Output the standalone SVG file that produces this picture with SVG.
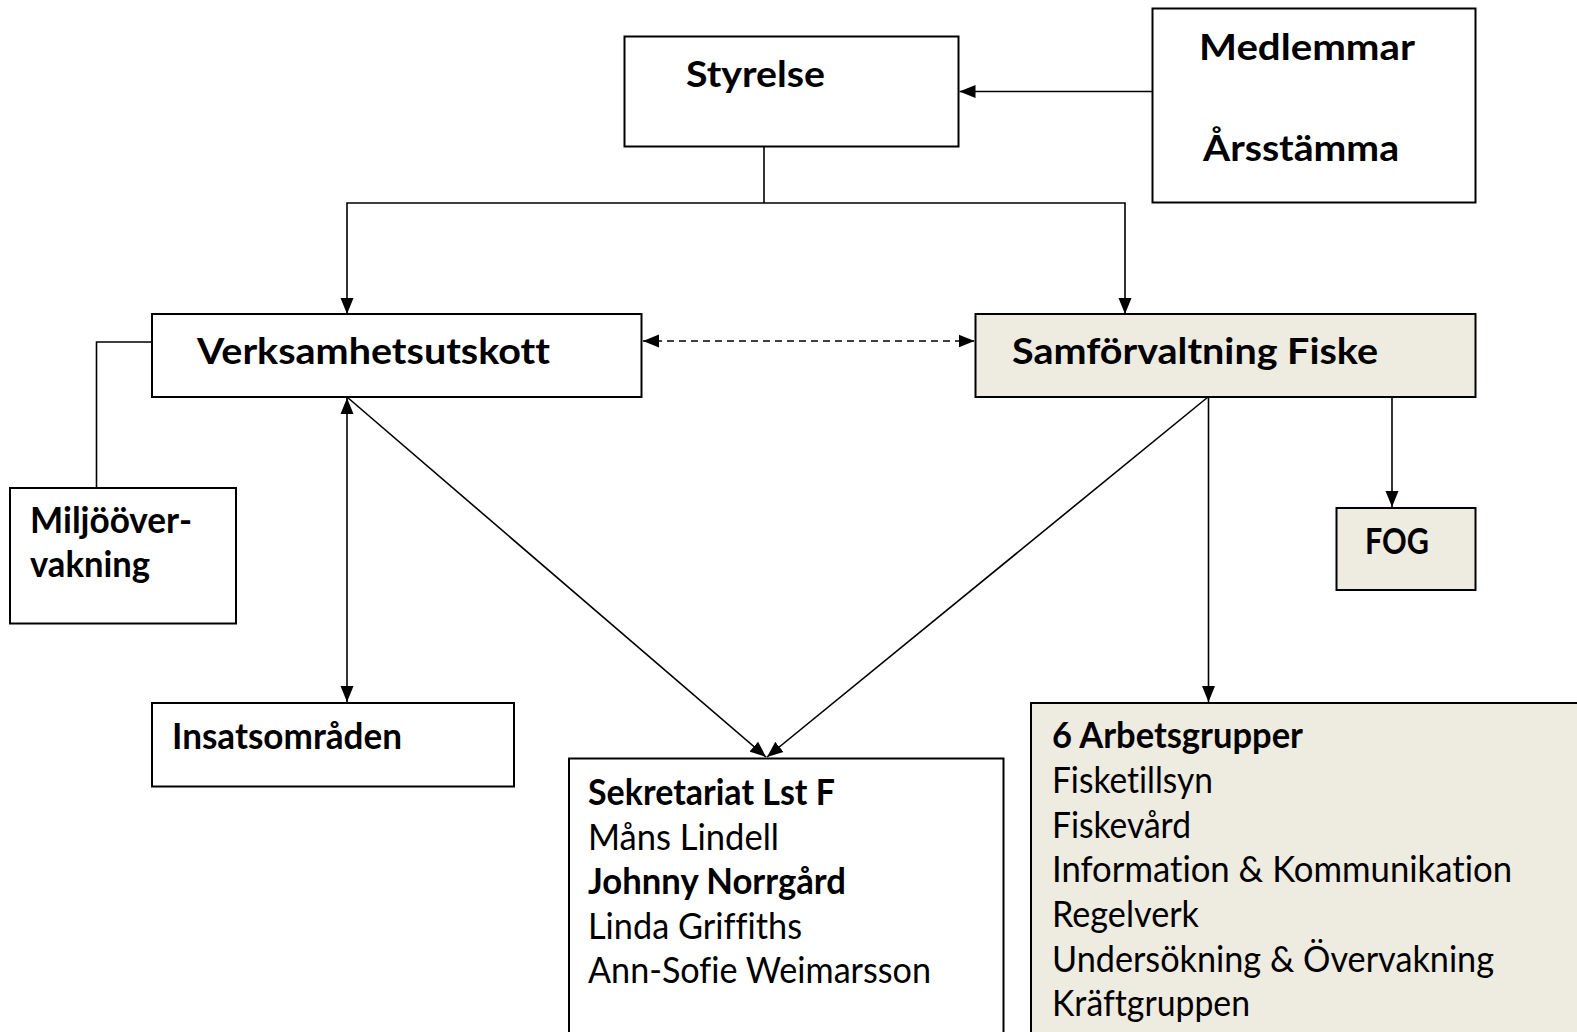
<svg xmlns="http://www.w3.org/2000/svg" width="1577" height="1032" viewBox="0 0 1577 1032">
<style>
.box{fill:#ffffff;stroke:#000;stroke-width:2}
.tan{fill:#EEEBE0;stroke:#000;stroke-width:2}
.t{font-family:Lato,"Liberation Sans",sans-serif;font-size:36px;fill:#000;font-variant-ligatures:none}
.b{font-weight:bold}
.c{fill:none;stroke:#000;stroke-width:1.6}
.d{stroke-dasharray:7 5}
</style>
<defs>
<marker id="ah" viewBox="0 0 16 14" refX="16" refY="7" markerWidth="16" markerHeight="14" markerUnits="userSpaceOnUse" orient="auto-start-reverse">
<path d="M0,0.5 L16,7 L0,13.5 Z" fill="#000"/>
</marker>
</defs>
<rect width="1577" height="1032" fill="#fff"/>
<g id="connectors">
<line class="c" x1="1152.5" y1="91.5" x2="959.5" y2="91.5" marker-end="url(#ah)"/>
<polyline class="c" points="764,147 764,203"/>
<polyline class="c" points="347,314 347,203 1125,203 1125,314" marker-start="url(#ah)" marker-end="url(#ah)"/>
<line class="c d" x1="643" y1="341" x2="974.5" y2="341" marker-start="url(#ah)" marker-end="url(#ah)"/>
<polyline class="c" points="152,342 96.5,342 96.5,488"/>
<line class="c" x1="347" y1="398" x2="347" y2="702" marker-start="url(#ah)" marker-end="url(#ah)"/>
<line class="c" x1="347" y1="397" x2="766" y2="757" marker-end="url(#ah)"/>
<line class="c" x1="1208" y1="397" x2="767" y2="757" marker-end="url(#ah)"/>
<line class="c" x1="1208.5" y1="397" x2="1208.5" y2="702" marker-end="url(#ah)"/>
<line class="c" x1="1392" y1="397" x2="1392" y2="507" marker-end="url(#ah)"/>
</g>
<g id="styrelse">
<rect class="box" x="624.5" y="36.5" width="334" height="110"/>
<text class="t b" x="686" y="87" textLength="139" lengthAdjust="spacingAndGlyphs">Styrelse</text>
</g>
<g id="medlemmar">
<rect class="box" x="1152.5" y="8.5" width="323" height="194"/>
<text class="t b" x="1199" y="60" textLength="216" lengthAdjust="spacingAndGlyphs">Medlemmar</text>
<text class="t b" x="1203" y="161" textLength="196" lengthAdjust="spacingAndGlyphs">Årsstämma</text>
</g>
<g id="verksamhetsutskott">
<rect class="box" x="152" y="314" width="489.5" height="83"/>
<text class="t b" x="197" y="364" textLength="353" lengthAdjust="spacingAndGlyphs">Verksamhetsutskott</text>
</g>
<g id="samforvaltning">
<rect class="tan" x="975.5" y="314" width="500" height="83"/>
<text class="t b" x="1012" y="364" textLength="366" lengthAdjust="spacingAndGlyphs">Samförvaltning Fiske</text>
</g>
<g id="miljo">
<rect class="box" x="10" y="488" width="226" height="135.5"/>
<text class="t b" x="30" y="533" textLength="162" lengthAdjust="spacingAndGlyphs">Miljööver-</text>
<text class="t b" x="30" y="577" textLength="120" lengthAdjust="spacingAndGlyphs">vakning</text>
</g>
<g id="insats">
<rect class="box" x="152" y="703" width="362" height="83.5"/>
<text class="t b" x="172" y="749" textLength="230" lengthAdjust="spacingAndGlyphs">Insatsområden</text>
</g>
<g id="fog">
<rect class="tan" x="1336.5" y="508" width="139" height="82"/>
<text class="t b" x="1365" y="554" textLength="64" lengthAdjust="spacingAndGlyphs">FOG</text>
</g>
<g id="sekretariat">
<rect class="box" x="569" y="758.5" width="434.5" height="290"/>
<text class="t b" x="588" y="805" textLength="247" lengthAdjust="spacingAndGlyphs">Sekretariat Lst F</text>
<text class="t" x="588" y="849.5" textLength="191" lengthAdjust="spacingAndGlyphs">Måns Lindell</text>
<text class="t b" x="588" y="894" textLength="258" lengthAdjust="spacingAndGlyphs">Johnny Norrgård</text>
<text class="t" x="588" y="938.5" textLength="214" lengthAdjust="spacingAndGlyphs">Linda Griffiths</text>
<text class="t" x="588" y="983" textLength="343" lengthAdjust="spacingAndGlyphs">Ann-Sofie Weimarsson</text>
</g>
<g id="arbetsgrupper">
<rect class="tan" x="1031" y="703" width="570" height="350"/>
<text class="t b" x="1052" y="748" textLength="251" lengthAdjust="spacingAndGlyphs">6 Arbetsgrupper</text>
<text class="t" x="1052" y="793" textLength="161" lengthAdjust="spacingAndGlyphs">Fisketillsyn</text>
<text class="t" x="1052" y="837.5" textLength="139" lengthAdjust="spacingAndGlyphs">Fiskevård</text>
<text class="t" x="1052" y="882" textLength="460" lengthAdjust="spacingAndGlyphs">Information &amp; Kommunikation</text>
<text class="t" x="1052" y="927" textLength="147" lengthAdjust="spacingAndGlyphs">Regelverk</text>
<text class="t" x="1052" y="971.5" textLength="442" lengthAdjust="spacingAndGlyphs">Undersökning &amp; Övervakning</text>
<text class="t" x="1052" y="1016" textLength="198" lengthAdjust="spacingAndGlyphs">Kräftgruppen</text>
</g>
</svg>
